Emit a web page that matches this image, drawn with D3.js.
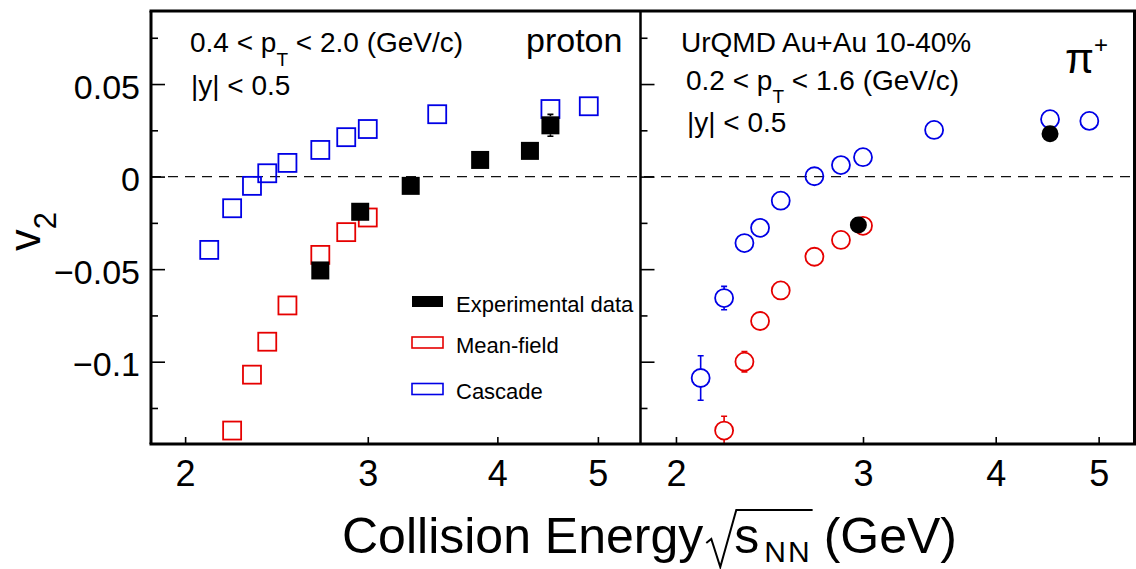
<!DOCTYPE html>
<html><head><meta charset="utf-8">
<script src="https://cdn.jsdelivr.net/npm/d3@7"></script>
<style>
body{margin:0;background:#fff}
svg{display:block}
text{font-family:"Liberation Sans",Arial,Helvetica,sans-serif;fill:#000}
</style></head>
<body><svg id="c" width="1136" height="569"></svg>
<script>
// ---------- data ----------
const xTicks = [2, 3, 4, 5];
const xTickLabels = ["2", "3", "4", "5"];
const yTicks = [-0.1, -0.05, 0, 0.05];
const yTickLabels = ["\u22120.1", "\u22120.05", "0", "0.05"];
const yMinorTicks = [-0.125, -0.075, -0.025, 0.025, 0.075];

// proton panel
const protonCascadeE  = [2.11, 2.22, 2.32, 2.40, 2.51, 2.70, 2.86, 3.00, 3.50, 4.50, 4.90];
const protonCascadeV2 = [-0.0396, -0.0171, -0.0050, 0.0018, 0.0074, 0.0144, 0.0213, 0.0257, 0.0337, 0.0365, 0.0380];
const protonMeanE     = [2.22, 2.32, 2.40, 2.51, 2.70, 2.86, 3.00];
const protonMeanV2    = [-0.1372, -0.1070, -0.0892, -0.0696, -0.0423, -0.0300, -0.0221];
const protonExpE      = [2.70, 2.95, 3.30, 3.85, 4.30, 4.50];
const protonExpV2     = [-0.0507, -0.0190, -0.0050, 0.0090, 0.0139, 0.0277];
const protonExpErr    = [0, 0, 0, 0, 0, 0.0059];

// pi+ panel
const pionCascadeE    = [2.11, 2.22, 2.32, 2.40, 2.51, 2.70, 2.86, 3.00, 3.50, 4.50, 4.90];
const pionCascadeV2   = [-0.1088, -0.0656, -0.0359, -0.0277, -0.0130, 0.0002, 0.0062, 0.0105, 0.0252, 0.0310, 0.0301];
const pionCascadeErr  = [0.0120, 0.0063, 0, 0, 0, 0, 0, 0, 0, 0, 0];
const pionMeanE       = [2.22, 2.32, 2.40, 2.51, 2.70, 2.86, 3.00];
const pionMeanV2      = [-0.1372, -0.1000, -0.0780, -0.0615, -0.0433, -0.0342, -0.0266];
const pionMeanErr     = [0.0077, 0.0055, 0, 0, 0, 0, 0];
const pionExpE        = [2.97, 4.50];
const pionExpV2       = [-0.0261, 0.0232];

const legendLabels = ["Experimental data", "Mean-field", "Cascade"];

// ---------- layout ----------
const svg = d3.select("#c");
const FR = {top: 11, bottom: 444, left: 151, mid: 640.5, right: 1134.5};
const BLUE = "#0000e6", RED = "#e60000";

const y = d3.scaleLinear().domain([-0.145, 0.09]).range([445, 10]);
const xL = d3.scaleLog().domain([1.85, 5.49]).range([150, 640]);
const xR = d3.scaleLog().domain([1.85, 5.41]).range([640, 1135]);

const zip = (E, V, Er) => E.map((e, i) => ({e, v: V[i], err: Er ? Er[i] : 0}));

const defs = svg.append("defs");
defs.append("clipPath").attr("id", "clipL").append("rect")
  .attr("x", FR.left).attr("y", FR.top).attr("width", FR.mid - FR.left).attr("height", FR.bottom - FR.top);
defs.append("clipPath").attr("id", "clipR").append("rect")
  .attr("x", FR.mid).attr("y", FR.top).attr("width", FR.right - FR.mid).attr("height", FR.bottom - FR.top);

// zero dashed line
svg.append("line").attr("x1", FR.left).attr("x2", FR.right)
  .attr("y1", y(0)).attr("y2", y(0))
  .attr("stroke", "#111").attr("stroke-width", 1.4).attr("stroke-dasharray", "10,7");

// axes ticks for each panel
function panelAxes(x, x0) {
  svg.append("g").attr("transform", `translate(${x0},0)`)
    .call(d3.axisRight(y).tickValues(yTicks).tickSize(14).tickFormat(""))
    .call(g => g.select(".domain").remove())
    .call(g => g.selectAll("line").attr("stroke", "#000").attr("stroke-width", 1.6));
  svg.append("g").attr("transform", `translate(${x0},0)`)
    .call(d3.axisRight(y).tickValues(yMinorTicks).tickSize(7).tickFormat(""))
    .call(g => g.select(".domain").remove())
    .call(g => g.selectAll("line").attr("stroke", "#000").attr("stroke-width", 1.6));
  svg.append("g").attr("transform", `translate(0,${FR.bottom})`)
    .call(d3.axisTop(x).tickValues(xTicks).tickSize(7).tickFormat(""))
    .call(g => g.select(".domain").remove())
    .call(g => g.selectAll("line").attr("stroke", "#000").attr("stroke-width", 1.6));
  svg.append("g").attr("transform", `translate(0,${FR.bottom})`)
    .call(d3.axisBottom(x).tickValues(xTicks).tickSize(0).tickPadding(16)
      .tickFormat((d, i) => xTickLabels[i]))
    .call(g => g.select(".domain").remove())
    .call(g => g.selectAll("text").attr("font-size", 36)
      .attr("font-family", '"Liberation Sans",Arial,sans-serif').attr("fill", "#000"));
}
panelAxes(xL, FR.left);
panelAxes(xR, FR.mid);

svg.append("g").attr("transform", `translate(${FR.left},0)`)
  .call(d3.axisLeft(y).tickValues(yTicks).tickSize(0).tickPadding(11)
    .tickFormat((d, i) => yTickLabels[i]))
  .call(g => g.select(".domain").remove())
  .call(g => g.selectAll("text").attr("font-size", 34).attr("dy", "0.42em")
    .attr("font-family", '"Liberation Sans",Arial,sans-serif').attr("fill", "#000"));

// ---------- marks ----------
function errBars(g, x, data, half, color) {
  data.filter(d => d.err > 0).forEach(d => {
    const cx = x(d.e), cy = y(d.v), t = y(d.v + d.err), b = y(d.v - d.err);
    if (cy - half > t) {
      g.append("line").attr("x1", cx).attr("x2", cx).attr("y1", t).attr("y2", cy - half)
        .attr("stroke", color).attr("stroke-width", 1.6);
    }
    if (b > cy + half) {
      g.append("line").attr("x1", cx).attr("x2", cx).attr("y1", cy + half).attr("y2", b)
        .attr("stroke", color).attr("stroke-width", 1.6);
    }
    [t, b].forEach(yy => g.append("line").attr("x1", cx - 3).attr("x2", cx + 3)
      .attr("y1", yy).attr("y2", yy).attr("stroke", color).attr("stroke-width", 1.6));
  });
}
function squares(g, x, data, color, filled) {
  const s = 18;
  errBars(g, x, data, s / 2, color);
  g.selectAll(null).data(data).enter().append("rect")
    .attr("x", d => x(d.e) - s / 2).attr("y", d => y(d.v) - s / 2)
    .attr("width", s).attr("height", s)
    .attr("fill", filled ? color : "none")
    .attr("stroke", color).attr("stroke-width", filled ? 0 : 1.8);
}
function circles(g, x, data, color, filled) {
  const r = filled ? 8.5 : 9;
  errBars(g, x, data, r, color);
  g.selectAll(null).data(data).enter().append("circle")
    .attr("cx", d => x(d.e)).attr("cy", d => y(d.v)).attr("r", r)
    .attr("fill", filled ? color : "none")
    .attr("stroke", color).attr("stroke-width", filled ? 0 : 1.8);
}

const gL = svg.append("g").attr("clip-path", "url(#clipL)");
squares(gL, xL, zip(protonCascadeE, protonCascadeV2), BLUE, false);
squares(gL, xL, zip(protonMeanE, protonMeanV2), RED, false);
squares(gL, xL, zip(protonExpE, protonExpV2, protonExpErr), "#000", true);

const gR = svg.append("g").attr("clip-path", "url(#clipR)");
circles(gR, xR, zip(pionCascadeE, pionCascadeV2, pionCascadeErr), BLUE, false);
circles(gR, xR, zip(pionMeanE, pionMeanV2, pionMeanErr), RED, false);
circles(gR, xR, zip(pionExpE, pionExpV2), "#000", true);

// ---------- frame ----------
const fr = svg.append("g").attr("stroke", "#000").attr("fill", "none");
fr.append("line").attr("x1", FR.left - 1.5).attr("x2", 1136).attr("y1", FR.top).attr("y2", FR.top).attr("stroke-width", 3);
fr.append("line").attr("x1", FR.left - 1.5).attr("x2", 1136).attr("y1", FR.bottom).attr("y2", FR.bottom).attr("stroke-width", 3);
fr.append("line").attr("x1", FR.left).attr("x2", FR.left).attr("y1", FR.top).attr("y2", FR.bottom).attr("stroke-width", 3);
fr.append("line").attr("x1", FR.mid).attr("x2", FR.mid).attr("y1", FR.top).attr("y2", FR.bottom).attr("stroke-width", 2.5);
fr.append("line").attr("x1", FR.right).attr("x2", FR.right).attr("y1", FR.top).attr("y2", FR.bottom).attr("stroke-width", 3);

// ---------- legend ----------
const legColors = ["#000", RED, BLUE];
const legFilled = [true, false, false];
const legY = [301.5, 342.5, 389];
legendLabels.forEach((lab, i) => {
  svg.append("rect").attr("x", 412).attr("y", legY[i] - 5.5).attr("width", 31).attr("height", 11)
    .attr("fill", legFilled[i] ? legColors[i] : "none")
    .attr("stroke", legColors[i]).attr("stroke-width", legFilled[i] ? 0 : 1.6);
  svg.append("text").attr("x", 456).attr("y", legY[i] + 10).attr("font-size", 22).text(lab);
});

// ---------- annotations ----------
function ptText(x0, y0, a, b, sub) {
  const t = svg.append("text").attr("x", x0).attr("y", y0).attr("font-size", 28);
  t.append("tspan").text(a + " < p");
  t.append("tspan").attr("font-size", 19).attr("dy", sub).text("T");
  t.append("tspan").attr("dy", -sub).text(" < " + b + " (GeV/c)");
}
ptText(190, 52, "0.4", "2.0", 13.5);
svg.append("text").attr("x", 191).attr("y", 95).attr("font-size", 28).text("|y| < 0.5");
svg.append("text").attr("x", 526).attr("y", 52).attr("font-size", 34).text("proton");

svg.append("text").attr("x", 681).attr("y", 52).attr("font-size", 28).text("UrQMD Au+Au 10-40%");
ptText(686, 90, "0.2", "1.6", 12.5);
svg.append("text").attr("x", 687).attr("y", 132).attr("font-size", 28).text("|y| < 0.5");
const pi = svg.append("text").attr("x", 1065).attr("y", 73)
  .attr("font-family", '"Liberation Serif","DejaVu Serif",serif').attr("font-size", 42);
pi.append("tspan").text("\u03c0");
pi.append("tspan").attr("font-size", 24).attr("dy", -20)
  .attr("font-family", '"Liberation Sans",Arial,sans-serif').text("+");

// y-axis title
const yt = svg.append("text").attr("transform", "translate(39.5,251) rotate(-90)").attr("font-size", 43.5);
yt.append("tspan").text("v");
yt.append("tspan").attr("font-size", 31).attr("dy", 16).text("2");

// x-axis title
const base = 553;
const t1 = svg.append("text").attr("x", 342).attr("y", base).attr("font-size", 50).text("Collision Energy");
const w1 = t1.node().getComputedTextLength();
const sx = 342 + w1 + 31;
const t2 = svg.append("text").attr("x", sx).attr("y", base).attr("font-size", 50).text("s");
const w2 = t2.node().getComputedTextLength();
const nx = sx + w2 + 5;
const t3 = svg.append("text").attr("x", nx).attr("y", base + 9).attr("font-size", 30)
  .attr("letter-spacing", 2).text("NN");
const w3 = t3.node().getComputedTextLength();
svg.append("text").attr("x", nx + w3 + 12).attr("y", base).attr("font-size", 50).text("(GeV)");
svg.append("path")
  .attr("d", `M${sx - 28},${base - 10} L${sx - 23},${base - 14} L${sx - 14},${base + 14} L${sx + 2},${base - 43} L${nx + w3 + 1},${base - 43}`)
  .attr("fill", "none").attr("stroke", "#000").attr("stroke-width", 2);
</script>
</body></html>
